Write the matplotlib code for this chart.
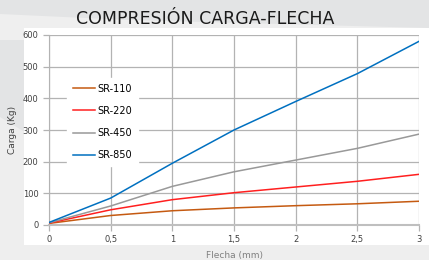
import numpy as np
import matplotlib.pyplot as plt
from matplotlib.patches import Rectangle, Polygon

# datos
flecha = [0, 0.5, 1, 1.5, 2, 2.5, 3]
sr110 = [5, 30, 45, 54, 61, 67, 75]
sr220 = [6, 48, 80, 102, 120, 138, 160]
sr450 = [7, 60, 122, 168, 205, 242, 287]
sr850 = [8, 85, 195, 300, 390, 478, 580]
series = ["SR-110", "SR-220", "SR-450", "SR-850"]
colores = ["#c55a11", "#ff1f1f", "#999999", "#0070c0"]
xticks = [0, 0.5, 1, 1.5, 2, 2.5, 3]
xlabels = ["0", "0,5", "1", "1,5", "2", "2,5", "3"]
yticks = [0, 100, 200, 300, 400, 500, 600]

fig = plt.figure(figsize=(4.29, 2.6), dpi=100)
fig.patch.set_facecolor("#e3e4e5")
# fondo claro diagonal
fig.patches.append(Polygon([(0, 0), (0, 0.55), (0.35, 0.2), (1, 0.25), (1, 0)], closed=True,
                           transform=fig.transFigure, facecolor="#eeeeee", edgecolor="none", zorder=-3))
fig.patches.append(Polygon([(0, 1 - 40 / 260), (0, 1 - 14 / 260), (0.3, 1 - 20 / 260), (1, 1 - 28 / 260),
                            (1, 1 - 40 / 260)], closed=True,
                           transform=fig.transFigure, facecolor="#efefef", edgecolor="none", zorder=-3))
# caja blanca del grafico
fig.patches.append(Rectangle((24 / 429, 1 - 245 / 260), 1 - 24 / 429, (245 - 28) / 260,
                             transform=fig.transFigure, facecolor="white", edgecolor="none", zorder=-2))

ax = fig.add_axes([49 / 429, 1 - 225 / 260, 370 / 429, 190 / 260])
ax.set_facecolor("white")

datos = [sr110, sr220, sr450, sr850]
for nombre, y, c in zip(series, datos, colores):
    ax.plot(flecha, y, color=c, lw=1.1, label=nombre, zorder=3)

ax.set_xlim(0, 3)
ax.set_ylim(0, 600)
ax.set_xticks(xticks)
ax.set_xticklabels(xlabels)
ax.set_yticks(yticks)
ax.grid(True, color="#b3b3b3", lw=0.9)
for s in ["top", "right"]:
    ax.spines[s].set_visible(False)
ax.spines["left"].set_color("#b3b3b3")
ax.spines["bottom"].set_color("#bfbfbf")
ax.spines["bottom"].set_linewidth(1.5)
ax.tick_params(colors="#b3b3b3", labelcolor="#404040", labelsize=6, length=4, width=0.9)

ax.set_xlabel("Flecha (mm)", fontsize=6.5, color="#808080", labelpad=5)
ax.set_ylabel("Carga (Kg)", fontsize=6.5, color="#404040", labelpad=4)

leg = ax.legend(loc="upper left", bbox_to_anchor=(0.035, 0.80), fontsize=7, frameon=True,
                fancybox=False, handlelength=2.3, handletextpad=0.2, labelspacing=1.25,
                borderpad=0.6)
leg.get_frame().set_edgecolor("white")
leg.get_frame().set_facecolor("white")
leg.get_frame().set_alpha(1)

fig.text(205 / 429, 1 - 19 / 260, "COMPRESIÓN CARGA-FLECHA", fontsize=12.5, color="#1a1a1a",
         ha="center", va="center")

fig.savefig("out.png", dpi=100, facecolor=fig.get_facecolor())
